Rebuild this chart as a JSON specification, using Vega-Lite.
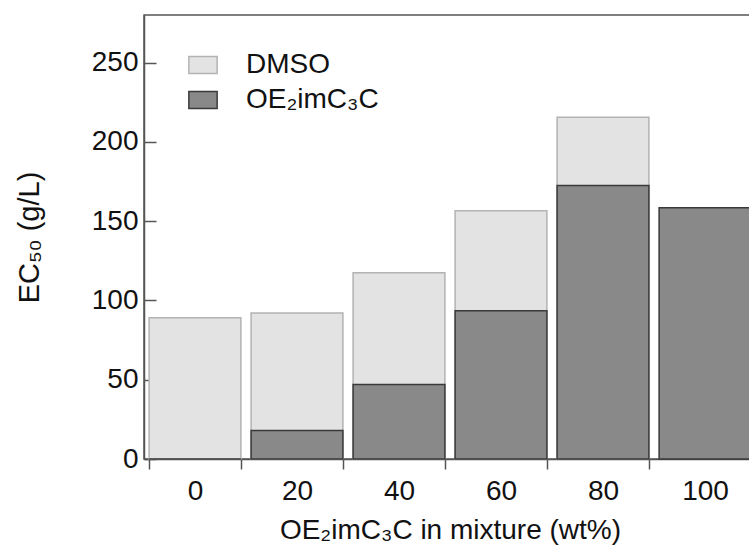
{
  "$schema": "https://vega.github.io/schema/vega-lite/v6.json",
  "autosize": {"type": "none"},
  "padding": {"left": 144, "top": 15, "right": 0, "bottom": 90},
  "width": 612,
  "height": 444,
  "config": {
    "font": "Liberation Sans",
    "view": {"stroke": "#555555", "strokeWidth": 1.5},
    "axis": {
      "domainColor": "#555555",
      "domainWidth": 1.5,
      "tickColor": "#555555",
      "tickWidth": 1.5,
      "labelColor": "#111111",
      "titleColor": "#111111",
      "labelFontSize": 28,
      "titleFontSize": 28,
      "titleFontWeight": "normal",
      "grid": false
    }
  },
  "data": {
    "values": [
      {"wt": "0", "series": "DMSO", "ec50": 89},
      {"wt": "20", "series": "DMSO", "ec50": 92},
      {"wt": "40", "series": "DMSO", "ec50": 117.5},
      {"wt": "60", "series": "DMSO", "ec50": 156.5},
      {"wt": "80", "series": "DMSO", "ec50": 215.5},
      {"wt": "0", "series": "OE₂imC₃C", "ec50": 0},
      {"wt": "20", "series": "OE₂imC₃C", "ec50": 18},
      {"wt": "40", "series": "OE₂imC₃C", "ec50": 47},
      {"wt": "60", "series": "OE₂imC₃C", "ec50": 93.5},
      {"wt": "80", "series": "OE₂imC₃C", "ec50": 172.5},
      {"wt": "100", "series": "OE₂imC₃C", "ec50": 158.5}
    ]
  },
  "mark": {"type": "bar", "strokeWidth": 1.5},
  "encoding": {
    "x": {
      "field": "wt",
      "type": "ordinal",
      "sort": ["0", "20", "40", "60", "80", "100"],
      "scale": {"paddingInner": 0.1, "paddingOuter": 0.05},
      "axis": {
        "title": "OE₂imC₃C in mixture (wt%)",
        "labelAngle": 0,
        "tickBand": "extent",
        "tickSize": 10,
        "labelPadding": 8,
        "titlePadding": 11
      }
    },
    "y": {
      "field": "ec50",
      "type": "quantitative",
      "stack": null,
      "scale": {"domain": [0, 280], "nice": false},
      "axis": {
        "title": "EC₅₀ (g/L)",
        "titleFontSize": 29,
        "values": [0, 50, 100, 150, 200, 250],
        "tickSize": -12,
        "labelPadding": 18,
        "titlePadding": 47
      }
    },
    "fill": {
      "field": "series",
      "type": "nominal",
      "sort": ["DMSO", "OE₂imC₃C"],
      "scale": {"domain": ["DMSO", "OE₂imC₃C"], "range": ["#e3e3e3", "#898989"]},
      "legend": {
        "title": null,
        "orient": "none",
        "legendX": 44,
        "legendY": 35,
        "labelFontSize": 28,
        "labelColor": "#111111",
        "labelOffset": 28,
        "rowPadding": 6,
        "symbolType": "M-1,-0.6H1V0.6H-1Z",
        "symbolSize": 800,
        "symbolStrokeWidth": 1.5
      }
    },
    "stroke": {
      "field": "series",
      "type": "nominal",
      "sort": ["DMSO", "OE₂imC₃C"],
      "scale": {"domain": ["DMSO", "OE₂imC₃C"], "range": ["#b3b3b3", "#3a3a3a"]},
      "legend": null
    }
  }
}
